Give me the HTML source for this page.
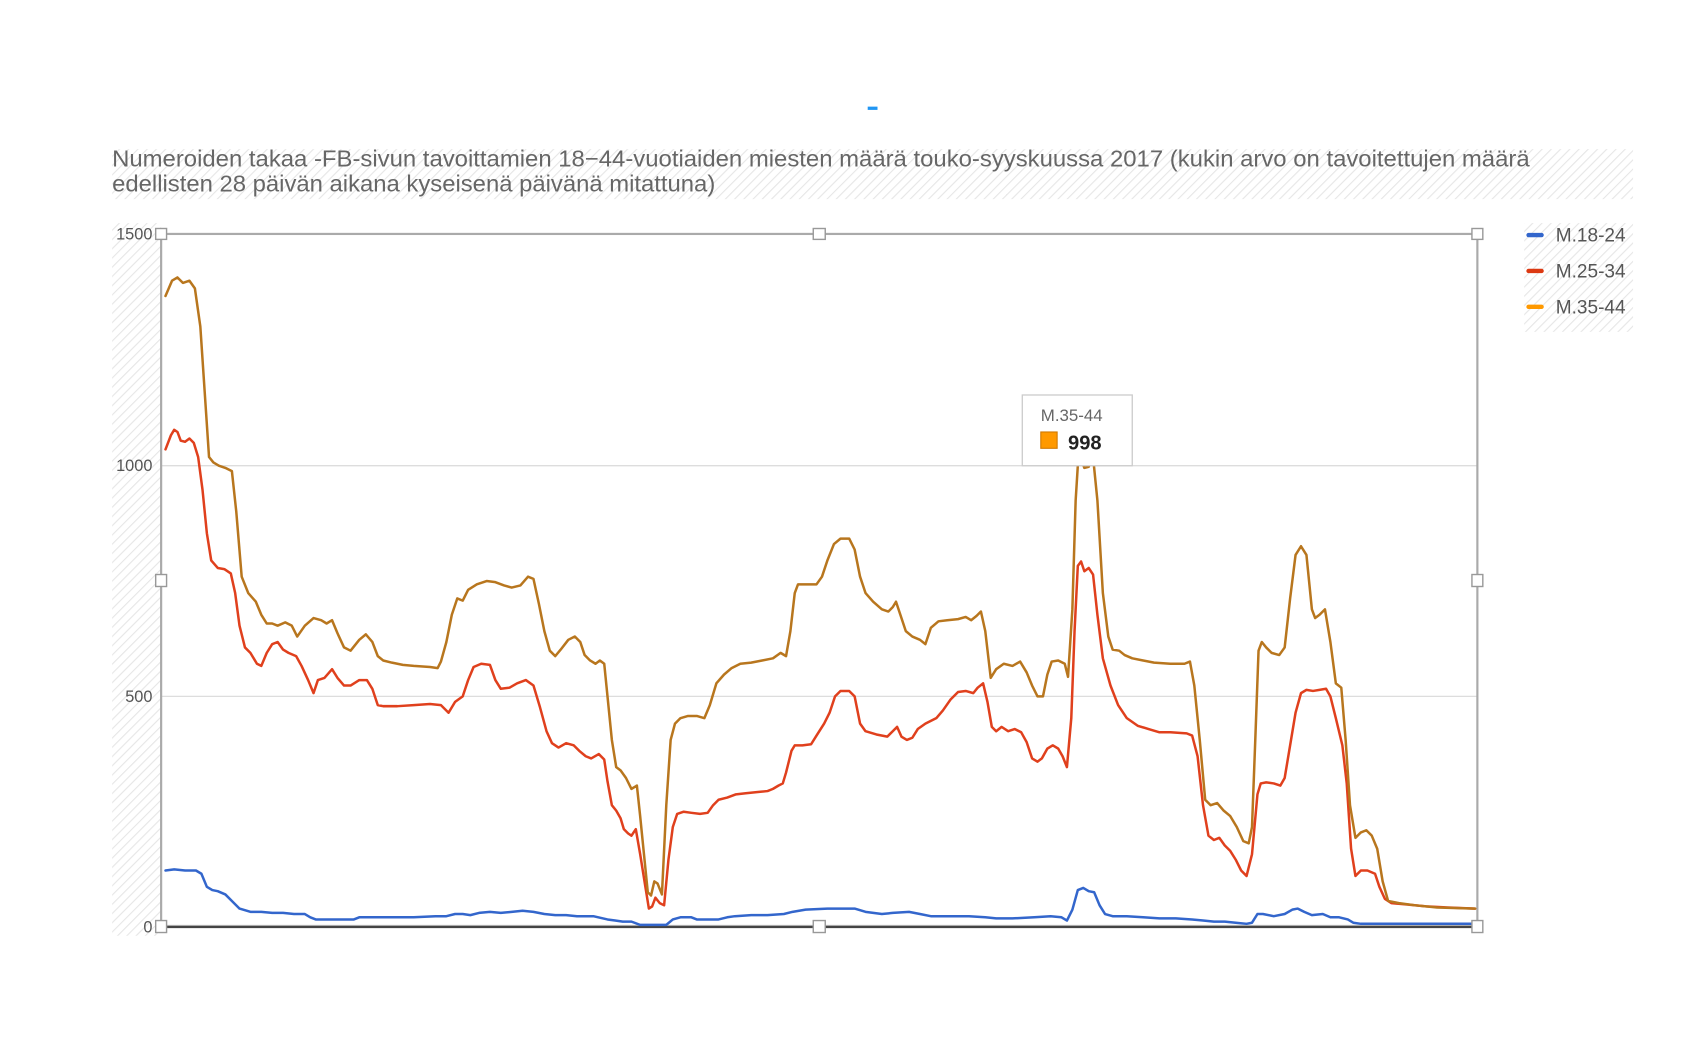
<!DOCTYPE html>
<html><head><meta charset="utf-8"><style>html,body{margin:0;padding:0;background:#fff}svg{display:block}text{font-family:"Liberation Sans",sans-serif}</style></head>
<body>
<svg width="1706" height="1062" viewBox="0 0 1567 976" preserveAspectRatio="none" xmlns="http://www.w3.org/2000/svg">
<defs>
<pattern id="h" width="6" height="6" patternUnits="userSpaceOnUse" patternTransform="rotate(45)">
<rect width="6" height="6" fill="#fff"/><line x1="0" y1="0" x2="0" y2="6" stroke="#e6e6e6" stroke-width="2"/>
</pattern>
</defs>
<rect x="797" y="98" width="9" height="3" fill="#2196f3"/>
<rect x="103" y="137" width="1397" height="46" fill="url(#h)"/>
<rect x="103" y="205" width="45" height="655" fill="url(#h)"/>
<rect x="1400" y="205" width="100" height="100" fill="url(#h)"/>
<text x="103" y="153" font-size="21" fill="#666" textLength="1302" lengthAdjust="spacingAndGlyphs">Numeroiden takaa -FB-sivun tavoittamien 18−44-vuotiaiden miesten määrä touko-syyskuussa 2017 (kukin arvo on tavoitettujen määrä</text>
<text x="103" y="176" font-size="21" fill="#666" textLength="554" lengthAdjust="spacingAndGlyphs">edellisten 28 päivän aikana kyseisenä päivänä mitattuna)</text>
<g stroke="#ddd" stroke-width="1.2">
<line x1="148" y1="428" x2="1357" y2="428"/><line x1="148" y1="640" x2="1357" y2="640"/>
</g>
<rect x="148" y="215" width="1209" height="636" fill="none" stroke="#aaa" stroke-width="2"/>
<line x1="148" y1="852" x2="1357" y2="852" stroke="#444" stroke-width="2"/>
<g font-size="15" fill="#555" text-anchor="end">
<text x="140" y="220">1500</text><text x="140" y="433">1000</text><text x="140" y="645">500</text><text x="140" y="857">0</text>
</g>
<g fill="none" stroke-width="2.3" stroke-linejoin="round" stroke-linecap="round">
<polyline stroke="#3366cc" points="152,800 160,799 170,800 180,800 185,803 190,815 195,818 200,819 207,822 213,828 220,835 230,838 240,838 250,839 260,839 270,840 280,840 285,843 290,845 310,845 325,845 330,843 340,843 360,843 380,843 400,842 410,842 418,840 425,840 432,841 440,839 450,838 460,839 470,838 480,837 490,838 500,840 510,841 520,841 530,842 545,842 558,845 565,846 572,847 580,847 588,850 595,850 605,850 612,850 618,845 625,843 635,843 640,845 648,845 660,845 668,843 675,842 690,841 705,841 720,840 728,838 740,836 760,835 785,835 795,838 810,840 820,839 835,838 845,840 855,842 870,842 890,842 905,843 915,844 930,844 950,843 965,842 975,843 980,846 985,836 990,818 995,816 1000,819 1005,820 1010,832 1015,840 1022,842 1035,842 1050,843 1065,844 1080,844 1095,845 1105,846 1115,847 1125,847 1135,848 1145,849 1150,848 1155,840 1160,840 1170,842 1180,840 1187,836 1192,835 1198,838 1205,841 1215,840 1222,843 1230,843 1238,845 1243,848 1250,849 1270,849 1300,849 1355,849"/>
<polyline stroke="#e0401d" points="152,413 157,400 160,395 163,397 166,405 170,406 174,403 178,407 182,420 186,450 190,490 194,515 200,522 206,523 212,527 216,545 220,575 225,595 230,600 236,610 240,612 245,600 250,592 255,590 260,597 265,600 272,603 277,612 283,625 288,637 292,625 298,623 305,615 310,623 316,630 322,630 330,625 337,625 342,633 347,648 352,649 365,649 380,648 395,647 405,648 412,655 418,645 425,640 430,625 435,613 442,610 450,611 455,625 460,633 468,632 475,628 483,625 490,630 496,650 502,672 507,683 513,687 520,683 527,685 532,690 538,695 543,697 550,693 555,698 558,718 562,740 566,745 570,752 573,762 577,766 580,768 584,762 588,785 592,810 596,835 599,833 602,825 606,830 610,832 614,790 618,760 622,748 628,746 635,747 643,748 650,747 655,740 660,735 668,733 676,730 685,729 695,728 705,727 710,725 715,722 719,720 722,710 727,690 730,685 737,685 745,684 750,676 757,665 762,655 767,640 772,635 780,635 785,640 790,665 795,672 805,675 815,677 820,672 824,668 828,677 833,680 838,678 843,670 850,665 860,660 866,653 873,643 880,636 887,635 894,637 898,632 903,628 907,645 911,668 915,672 920,668 926,672 932,670 938,673 943,682 948,697 953,700 957,697 962,688 967,685 972,688 976,695 980,705 984,660 987,580 990,520 993,516 996,525 1000,522 1004,528 1008,565 1013,605 1020,630 1027,648 1035,660 1045,667 1055,670 1065,673 1075,673 1090,674 1095,676 1100,695 1105,740 1110,768 1115,772 1120,770 1125,777 1130,782 1135,790 1140,800 1145,805 1150,785 1155,730 1158,720 1163,719 1170,720 1176,722 1180,715 1185,685 1190,655 1195,637 1200,634 1206,635 1212,634 1218,633 1222,640 1227,660 1233,685 1237,720 1241,780 1245,805 1250,800 1256,800 1263,803 1267,815 1272,826 1278,830 1290,831 1310,833 1330,834 1355,835"/>
<polyline stroke="#b8761e" points="152,272 158,258 163,255 168,260 174,258 179,265 184,300 188,360 192,420 196,425 201,428 207,430 213,433 217,470 222,530 228,545 235,553 240,565 245,573 250,573 255,575 262,572 268,575 273,585 280,575 288,568 295,570 300,573 305,570 310,582 316,595 322,598 330,588 336,583 342,590 347,603 352,607 360,609 370,611 380,612 395,613 402,614 405,608 410,590 415,565 420,550 425,552 430,542 438,537 447,534 455,535 463,538 470,540 478,538 485,530 490,532 495,555 500,580 505,598 510,603 515,597 522,588 528,585 533,590 537,602 542,607 547,610 551,607 555,610 558,640 562,680 566,705 570,708 575,715 580,725 585,722 588,750 592,790 595,820 598,823 601,810 604,812 608,822 612,740 616,680 620,665 625,660 632,658 640,658 647,660 652,648 658,628 665,620 672,614 680,610 690,609 700,607 710,605 717,600 722,603 726,580 730,545 733,537 740,537 750,537 755,530 760,515 766,500 772,495 780,495 785,505 790,530 795,545 802,553 810,560 816,562 820,558 823,553 827,565 832,580 838,585 845,588 850,592 855,577 862,571 870,570 880,569 887,567 892,570 897,566 901,562 905,580 910,623 915,615 922,610 930,612 937,608 943,618 948,630 953,640 958,640 962,620 966,608 972,607 978,610 981,622 985,560 988,460 990,428 993,422 996,430 1000,429 1004,420 1008,460 1013,545 1018,585 1022,597 1028,598 1033,602 1040,605 1050,607 1060,609 1075,610 1088,610 1093,608 1097,630 1102,680 1107,735 1112,740 1118,738 1124,745 1130,750 1136,760 1142,773 1147,775 1150,760 1153,680 1156,598 1159,590 1163,595 1168,600 1175,602 1180,595 1185,550 1190,510 1195,502 1200,510 1205,560 1208,568 1212,565 1217,560 1222,590 1227,628 1232,632 1236,680 1240,740 1245,770 1250,765 1255,763 1260,768 1265,780 1270,810 1275,828 1285,830 1300,832 1320,834 1355,835"/>
</g>
<g fill="#fff" stroke="#999" stroke-width="1.3">
<rect x="143" y="210" width="10" height="10"/><rect x="747" y="210" width="11" height="10"/><rect x="1352" y="210" width="10" height="10"/>
<rect x="143" y="528" width="10" height="11"/><rect x="1352" y="528" width="10" height="11"/>
<rect x="143" y="846" width="10" height="11"/><rect x="747" y="846" width="11" height="11"/><rect x="1352" y="846" width="10" height="11"/>
</g>
<g font-size="17.5" fill="#555">
<rect x="1402" y="214" width="16" height="4" rx="2" fill="#3366cc"/><text x="1429" y="222">M.18-24</text>
<rect x="1402" y="247" width="16" height="4" rx="2" fill="#dc3912"/><text x="1429" y="255">M.25-34</text>
<rect x="1402" y="280" width="16" height="4" rx="2" fill="#ff9900"/><text x="1429" y="288">M.35-44</text>
</g>
<rect x="939" y="363" width="101" height="65" fill="#fff" stroke="#ccc" stroke-width="1.2"/>
<text x="956" y="387" font-size="15.5" fill="#666">M.35-44</text>
<rect x="956" y="397" width="15" height="15" fill="#ff9900" stroke="#d07800" stroke-width="1"/>
<text x="981" y="413" font-size="18.5" font-weight="bold" fill="#222">998</text>
</svg>
</body></html>
